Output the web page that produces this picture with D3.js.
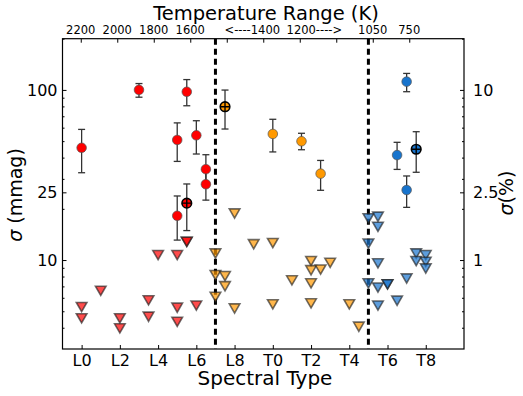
<!DOCTYPE html>
<html>
<head>
<meta charset="utf-8">
<script src="https://cdn.jsdelivr.net/npm/d3@7"></script>
<style>
  body { margin: 0; background: #fff; }
  text { font-family: "DejaVu Sans", sans-serif; fill: #000; }
</style>
</head>
<body>
<div id="chart"></div>
<script>
// spectral type index: L0..L9 = 0..9, T0..T9 = 10..19
var spTicks = [0, 2, 4, 6, 8, 10, 12, 14, 16, 18];
var spLabels = ["L0", "L2", "L4", "L6", "L8", "T0", "T2", "T4", "T6", "T8"];

// top axis (temperature)
var tempTicks = [0, 1, 2, 3, 4, 5, 6, 7, 8, 9];
var tempLabelPos = [0, 1, 2, 3, 4.7, 6.4, 8, 9];
var tempLabels = ["2200", "2000", "1800", "1600", "<----1400", "1200---->", "1050", "750"];

var yMajor = [10, 25, 100];
var yMinor = [4, 5, 6, 7, 8, 9, 20, 30, 40, 50, 60, 70, 80, 90, 200];
var yRightLabels = ["1", "2.5", "10"];

var boundaries = [7, 15];

// detections (circles with error bars)
var redDetType  = [0, 3, 5.5, 5, 6, 6.5, 6.5, 5, 5.5];
var redDetSigma = [45.7, 100, 97.5, 50.8, 54.1, 34.2, 27.9, 18.2, 21.6];
var redDetLo    = [32.6, 90.6, 80.7, 38, 42, 28, 22.5, 13.1, 14.9];
var redDetHi    = [58.6, 109, 115, 64, 65.9, 41.6, 34, 23.8, 28];
var redDetCross = [0, 0, 0, 0, 0, 0, 0, 0, 1];

var orDetType  = [7.5, 10, 11.5, 12.5];
var orDetSigma = [79.7, 55.1, 49.9, 32.2];
var orDetLo    = [58.9, 43.2, 44.5, 25.7];
var orDetHi    = [99.8, 67.2, 55.6, 38.5];
var orDetCross = [1, 0, 0, 0];

var blDetType  = [17, 16.5, 17.5, 17];
var blDetSigma = [111.8, 41.4, 44.8, 25.8];
var blDetLo    = [97.6, 34.1, 32.8, 20.4];
var blDetHi    = [125, 49.2, 56.8, 31.2];
var blDetCross = [0, 0, 1, 0];

// upper limits (down triangles)
var redLimType  = [0, 0, 1, 2, 2, 3.5, 3.5, 4, 5, 5, 5, 5.5, 5.5, 6];
var redLimSigma = [5.3, 4.55, 6.6, 4.55, 3.97, 5.8, 4.65, 10.7, 10.7, 5.25, 4.34, 12.8, 12.8, 5.4];

var orLimType  = [7, 7, 7.5, 7.5, 7, 8, 8, 9, 10, 10, 11, 12, 12, 12, 12, 12.5, 13, 14, 14.5];
var orLimSigma = [10.95, 8.17, 8.05, 7.03, 6.09, 18.8, 5.2, 12.4, 12.6, 5.5, 7.6, 9.87, 8.73, 7.3, 5.57, 8.8, 9.64, 5.5, 4.06];

var blLimType  = [15, 15.5, 15.5, 15, 15.5, 15, 15.5, 16, 16, 15.5, 16.5, 17, 17.5, 18, 17.5, 18, 18];
var blLimSigma = [17.6, 18.0, 15.7, 12.5, 9.57, 7.3, 6.9, 7.2, 7.2, 5.4, 5.77, 7.8, 10.95, 10.7, 9.87, 9.78, 8.93];

var colors = {red: "#ff0000", orange: "#ff9900", blue: "#1874cd"};

var W = 523, H = 396;
var pLeft = 62.5, pRight = 464, pTop = 38.7, pBottom = 349;

var svg = d3.select("#chart").append("svg")
    .attr("width", W).attr("height", H);

var x = d3.scaleLinear().domain([-1, 20]).range([pLeft, pRight]);
var xTop = d3.scaleLinear().domain([-0.5, 10.5]).range([pLeft, pRight]);
var y = d3.scaleLog().domain([3, 200]).range([pBottom, pTop]);

// dashed boundaries
svg.selectAll("line.bound")
  .data(boundaries)
  .enter().append("line")
    .attr("x1", d => x(d)).attr("x2", d => x(d))
    .attr("y1", pTop).attr("y2", pBottom)
    .style("stroke", "#000").style("stroke-width", 3)
    .style("stroke-dasharray", "6,4");

// bottom axis, ticks inward
svg.append("g")
    .attr("transform", "translate(0," + pBottom + ")")
    .call(d3.axisBottom(x).tickValues(spTicks).tickSizeInner(-4).tickSizeOuter(0)
      .tickFormat((d, i) => spLabels[i]).tickPadding(6))
    .call(g => g.select(".domain").remove())
    .selectAll("text").style("font-size", "16px").attr("y", 17).attr("dy", null);

// top axis ticks
svg.append("g")
    .attr("transform", "translate(0," + pTop + ")")
    .call(d3.axisTop(xTop).tickValues(tempTicks).tickSizeInner(-4).tickSizeOuter(0).tickFormat(""))
    .call(g => g.select(".domain").remove());

svg.selectAll("text.temp")
  .data(tempLabels)
  .enter().append("text")
    .attr("class", "temp")
    .attr("x", (d, i) => xTop(tempLabelPos[i]))
    .attr("y", 34)
    .attr("text-anchor", "middle")
    .style("font-size", "11.5px")
    .text(d => d);

// left axis
svg.append("g")
    .attr("transform", "translate(" + pLeft + ",0)")
    .call(d3.axisLeft(y).tickValues(yMajor).tickSizeInner(-4).tickSizeOuter(0)
      .tickFormat(d3.format("d")).tickPadding(5))
    .call(g => g.select(".domain").remove())
    .selectAll("text").style("font-size", "16px");
svg.append("g")
    .attr("transform", "translate(" + pLeft + ",0)")
    .call(d3.axisLeft(y).tickValues(yMinor).tickSizeInner(-2).tickSizeOuter(0).tickFormat(""))
    .call(g => g.select(".domain").remove());

// right axis
svg.append("g")
    .attr("transform", "translate(" + pRight + ",0)")
    .call(d3.axisRight(y).tickValues(yMajor).tickSizeInner(-4).tickSizeOuter(0)
      .tickFormat((d, i) => yRightLabels[i]).tickPadding(9))
    .call(g => g.select(".domain").remove())
    .selectAll("text").style("font-size", "16px");
svg.append("g")
    .attr("transform", "translate(" + pRight + ",0)")
    .call(d3.axisRight(y).tickValues(yMinor).tickSizeInner(-2).tickSizeOuter(0).tickFormat(""))
    .call(g => g.select(".domain").remove());

svg.selectAll(".tick line").style("stroke", "#000");

// frame
svg.append("rect")
    .attr("x", pLeft).attr("y", pTop)
    .attr("width", pRight - pLeft).attr("height", pBottom - pTop)
    .style("fill", "none").style("stroke", "#000").style("stroke-width", 1.2);

// upper limits
function drawLimits(types, sigmas, color) {
  svg.append("g").selectAll("path")
    .data(types.map((t, i) => ({t: t, s: sigmas[i]})))
    .enter().append("path")
      .attr("d", "M-5.3,-4.5L5.3,-4.5L0,4.7Z")
      .attr("transform", d => "translate(" + x(d.t) + "," + y(d.s) + ")")
      .style("fill", color).style("fill-opacity", 0.7)
      .style("stroke", "#222").style("stroke-opacity", 0.65)
      .style("stroke-width", 1.6).style("stroke-linejoin", "miter");
}
drawLimits(redLimType, redLimSigma, colors.red);
drawLimits(orLimType, orLimSigma, colors.orange);
drawLimits(blLimType, blLimSigma, colors.blue);

// detections
function drawDetections(types, sigmas, lo, hi, cross, color) {
  var data = types.map((t, i) => ({t: t, s: sigmas[i], lo: lo[i], hi: hi[i], c: cross[i]}));
  var g = svg.append("g");
  var eb = g.selectAll("g.eb").data(data).enter().append("g")
      .style("stroke", "#333").style("stroke-width", 1.3);
  eb.append("line")
      .attr("x1", d => x(d.t)).attr("x2", d => x(d.t))
      .attr("y1", d => y(d.lo)).attr("y2", d => y(d.hi));
  eb.append("line")
      .attr("x1", d => x(d.t) - 3.5).attr("x2", d => x(d.t) + 3.5)
      .attr("y1", d => y(d.lo)).attr("y2", d => y(d.lo));
  eb.append("line")
      .attr("x1", d => x(d.t) - 3.5).attr("x2", d => x(d.t) + 3.5)
      .attr("y1", d => y(d.hi)).attr("y2", d => y(d.hi));

  g.selectAll("circle").data(data).enter().append("circle")
      .attr("cx", d => x(d.t)).attr("cy", d => y(d.s))
      .attr("r", 4.8)
      .style("fill", color)
      .style("stroke", d => d.c ? "#000" : "#555")
      .style("stroke-width", d => d.c ? 1.6 : 0.7);

  var cr = data.filter(d => d.c);
  g.selectAll("path.cross").data(cr).enter().append("path")
      .attr("d", d => "M" + (x(d.t) - 4.8) + "," + y(d.s) + "h9.6M" + x(d.t) + "," + (y(d.s) - 4.8) + "v9.6")
      .style("stroke", "#000").style("stroke-width", 1.4);
}
drawDetections(redDetType, redDetSigma, redDetLo, redDetHi, redDetCross, colors.red);
drawDetections(orDetType, orDetSigma, orDetLo, orDetHi, orDetCross, colors.orange);
drawDetections(blDetType, blDetSigma, blDetLo, blDetHi, blDetCross, colors.blue);

// titles
svg.append("text")
    .attr("x", 266).attr("y", 20)
    .attr("text-anchor", "middle").style("font-size", "19.5px")
    .text("Temperature Range (K)");
svg.append("text")
    .attr("x", 265).attr("y", 385)
    .attr("text-anchor", "middle").style("font-size", "20px")
    .text("Spectral Type");

var yl = svg.append("text")
    .attr("transform", "translate(22,195) rotate(-90)")
    .attr("text-anchor", "middle").style("font-size", "19px");
yl.append("tspan").style("font-style", "italic").text("σ");
yl.append("tspan").text(" (mmag)");

var yr = svg.append("text")
    .attr("transform", "translate(513,193) rotate(-90)")
    .attr("text-anchor", "middle").style("font-size", "19px");
yr.append("tspan").style("font-style", "italic").text("σ");
yr.append("tspan").text("(%)");
</script>
</body>
</html>
